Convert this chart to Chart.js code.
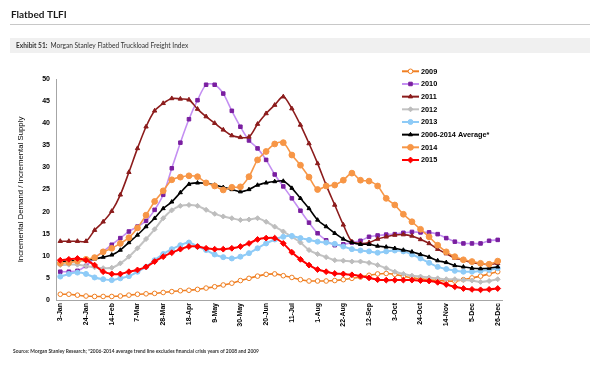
<!DOCTYPE html>
<html>
<head>
<meta charset="utf-8">
<script src="https://cdn.jsdelivr.net/npm/chart.js@4.4.1/dist/chart.umd.min.js"></script>
<style>
  html, body { margin: 0; padding: 0; background: #ffffff; }
  #wrap { position: relative; width: 600px; height: 377px; overflow: hidden; }
  canvas { display: block; }
</style>
</head>
<body>
<div id="wrap"><canvas id="chart" width="600" height="377"></canvas></div>
<script>
// weekly categories, one label shown every 3 weeks
const weeks = ["3-Jan", "10-Jan", "17-Jan", "24-Jan", "31-Jan", "7-Feb", "14-Feb", "21-Feb", "28-Feb",
  "7-Mar", "14-Mar", "21-Mar", "28-Mar", "4-Apr", "11-Apr", "18-Apr", "25-Apr", "2-May", "9-May",
  "16-May", "23-May", "30-May", "6-Jun", "13-Jun", "20-Jun", "27-Jun", "4-Jul", "11-Jul", "18-Jul",
  "25-Jul", "1-Aug", "8-Aug", "15-Aug", "22-Aug", "29-Aug", "5-Sep", "12-Sep", "19-Sep", "26-Sep",
  "3-Oct", "10-Oct", "17-Oct", "24-Oct", "31-Oct", "7-Nov", "14-Nov", "21-Nov", "28-Nov", "5-Dec",
  "12-Dec", "19-Dec", "26-Dec"];

const yTicks = [0, 5, 10, 15, 20, 25, 30, 35, 40, 45, 50];

const y2009 = [1.3, 1.3, 1.1, 0.9, 0.8, 0.8, 0.8, 0.9, 1.1, 1.3,
  1.4, 1.5, 1.7, 1.9, 2.1, 2.2, 2.4, 2.7, 3.0, 3.4,
  3.8, 4.4, 4.9, 5.4, 5.8, 5.9, 5.5, 5.1, 4.6, 4.3,
  4.3, 4.3, 4.4, 4.6, 4.9, 5.2, 5.6, 5.9, 6.0, 5.8,
  5.4, 5.0, 4.8, 4.6, 4.4, 4.3, 4.3, 4.6, 5.0, 5.4,
  5.9, 6.4];

const y2010 = [6.4, 6.4, 6.6, 7.7, 9.5, 11.0, 12.5, 14.0, 15.5, 16.6,
  17.9, 20.4, 23.8, 29.8, 35.6, 40.9, 45.2, 48.7, 48.7, 46.7,
  42.8, 39.2, 36.1, 34.3, 31.7, 28.4, 25.7, 23.0, 20.2, 17.5,
  15.1, 13.5, 12.4, 12.6, 13.0, 13.4, 14.3, 14.6, 14.8, 14.9,
  15.2, 15.4, 15.3, 15.3, 14.9, 14.0, 13.2, 12.8, 12.8, 12.8,
  13.4, 13.6];

const y2011 = [13.3, 13.3, 13.3, 13.3, 15.8, 17.7, 20.1, 23.8, 28.9, 34.3,
  39.2, 42.8, 44.5, 45.6, 45.5, 45.3, 43.2, 41.5, 40.0, 38.5,
  37.2, 36.8, 36.9, 39.8, 42.2, 44.1, 46.0, 43.3, 39.6, 35.4,
  30.9, 26.0, 21.5, 17.0, 13.2, 12.8, 13.0, 13.8, 14.3, 14.7,
  14.8, 14.5, 13.7, 12.8, 11.5, 10.5, 9.5, 9.0, 8.5, 8.2,
  8.0, 8.3];

const y2012 = [7.9, 8.0, 8.0, 7.7, 7.4, 7.2, 7.3, 8.3, 9.8, 11.7,
  13.8, 16.0, 18.5, 20.3, 21.3, 21.5, 21.3, 20.4, 19.5, 18.9,
  18.5, 18.1, 18.2, 18.5, 17.7, 16.6, 15.5, 14.3, 13.0, 11.3,
  10.4, 9.7, 9.0, 8.9, 8.7, 8.7, 8.4, 7.9, 7.2, 6.4,
  5.9, 5.5, 5.3, 5.1, 4.9, 4.7, 4.7, 4.5, 4.4, 4.1,
  4.3, 4.7];

const y2013 = [5.3, 5.9, 6.2, 5.9, 5.1, 4.7, 4.5, 4.9, 5.4, 6.4,
  7.5, 9.0, 10.4, 11.5, 12.4, 13.0, 12.1, 11.3, 10.3, 9.7,
  9.4, 9.8, 10.6, 11.7, 12.8, 13.7, 14.3, 14.5, 14.0, 13.6,
  13.2, 13.0, 12.7, 12.1, 11.5, 11.2, 11.0, 10.7, 11.0, 11.2,
  11.0, 10.3, 9.4, 8.4, 7.5, 7.0, 6.6, 6.4, 6.4, 6.6,
  6.8, 7.2];

const yAverage = [8.7, 8.8, 8.9, 9.0, 9.3, 9.7, 10.2, 11.3, 13.0, 14.7,
  16.6, 18.5, 20.7, 22.2, 24.3, 26.2, 26.5, 26.4, 26.0, 25.5,
  25.0, 24.5, 25.0, 26.0, 26.5, 26.8, 26.9, 25.3, 23.0, 20.7,
  18.1, 16.6, 15.1, 13.8, 13.0, 12.6, 12.6, 12.2, 12.0, 11.7,
  11.3, 10.9, 10.3, 9.7, 8.9, 8.5, 7.8, 7.5, 7.2, 7.1,
  7.2, 7.5];

const y2014 = [8.3, 8.5, 8.8, 9.2, 9.6, 10.9, 11.7, 12.8, 14.1, 16.3,
  19.2, 22.3, 24.7, 27.2, 27.8, 28.1, 27.9, 26.5, 25.8, 24.9,
  25.5, 25.6, 27.9, 31.7, 33.6, 35.3, 35.6, 32.8, 30.5, 27.8,
  25.0, 25.8, 26.0, 27.1, 28.7, 27.1, 26.9, 25.8, 23.0, 21.5,
  19.4, 17.7, 16.0, 14.3, 12.4, 10.9, 9.8, 9.1, 8.7, 8.3,
  8.1, 8.8];

const y2015 = [9.0, 9.2, 9.4, 9.0, 7.9, 6.4, 5.9, 5.9, 6.4, 6.8,
  7.5, 8.7, 9.8, 10.7, 11.5, 12.1, 12.1, 11.7, 11.5, 11.5,
  11.7, 12.1, 12.8, 13.7, 14.0, 14.0, 12.8, 10.8, 9.2, 7.9,
  6.9, 6.4, 6.0, 5.9, 5.7, 5.4, 5.0, 4.6, 4.5, 4.5,
  4.5, 4.5, 4.4, 4.3, 4.0, 3.5, 3.0, 2.6, 2.4, 2.3,
  2.4, 2.6];

// series look: line colour, marker colour/fill, marker shape
function series(label, data, line, marker, fill, style, radius) {
  return {
    label: label,
    data: data,
    borderColor: line,
    borderWidth: 1.6,
    pointBackgroundColor: fill,
    pointBorderColor: marker,
    pointBorderWidth: 1,
    pointStyle: style,
    pointRadius: radius,
    pointHoverRadius: radius,
    tension: 0.3,
    fill: false
  };
}

const datasets = [
  series("2009", y2009, "#f07f22", "#f07f22", "#ffffff", "circle", 2.3),
  series("2010", y2010, "#c48ff2", "#7a1fa0", "#7a1fa0", "rect", 2.5),
  series("2011", y2011, "#8c1c1c", "#8c1c1c", "#8c1c1c", "triangle", 2.5),
  series("2012", y2012, "#c3c3c3", "#bdbdbd", "#bdbdbd", "rectRot", 2.5),
  series("2013", y2013, "#8ecbf7", "#8ecbf7", "#8ecbf7", "circle", 2.5),
  series("2006-2014 Average*", yAverage, "#000000", "#000000", "#000000", "triangle", 2.3),
  series("2014", y2014, "#f79646", "#f79646", "#f79646", "circle", 2.9),
  series("2015", y2015, "#ff0000", "#ff0000", "#ff0000", "rectRot", 2.9)
];
datasets.forEach((d, i) => { d.order = datasets.length - i; });
datasets[3].borderWidth = 2;
datasets[4].borderWidth = 2;
datasets[7].borderWidth = 2;

// page header, band and source note drawn behind the chart
const pageText = {
  id: "pageText",
  beforeDraw(chart) {
    const ctx = chart.ctx;
    ctx.save();
    ctx.fillStyle = "#ffffff";
    ctx.fillRect(0, 0, chart.width, chart.height);

    ctx.fillStyle = "#1a1a1a";
    ctx.font = "bold 10px Lato";
    ctx.textBaseline = "alphabetic";
    ctx.fillText("Flatbed TLFI", 11, 17.5);

    ctx.fillStyle = "#c8c8c8";
    ctx.fillRect(10, 24, 580, 1);

    ctx.fillStyle = "#f0f0f0";
    ctx.fillRect(10, 38, 580, 15);

    ctx.fillStyle = "#333333";
    ctx.font = "bold 6.6px Lato";
    ctx.fillText("Exhibit 51:", 16, 48.3);
    const w = ctx.measureText("Exhibit 51:").width;
    ctx.font = "6.6px Lato";
    ctx.fillText("Morgan Stanley Flatbed Truckload Freight Index", 16 + w + 3, 48.3);

    ctx.font = "bold 4.9px Lato";
    ctx.fillStyle = "#333333";
    ctx.fillText("Source: Morgan Stanley Research; *2006-2014 average trend line excludes financial crisis years of 2008 and 2009", 13, 353);
    ctx.restore();
  },
  // legend in the upper right of the plot
  afterDraw(chart) {
    const ctx = chart.ctx;
    ctx.save();
    chart.data.datasets.forEach((d, i) => {
      const y = 71.3 + i * 12.67;
      ctx.strokeStyle = d.borderColor;
      ctx.lineWidth = 2;
      ctx.beginPath();
      ctx.moveTo(402, y);
      ctx.lineTo(419, y);
      ctx.stroke();
      ctx.fillStyle = d.pointBackgroundColor;
      ctx.strokeStyle = d.pointBorderColor;
      ctx.lineWidth = 1;
      Chart.helpers.drawPoint(ctx, { pointStyle: d.pointStyle, radius: d.pointRadius, borderWidth: 1, rotation: 0 }, 410.5, y);
      ctx.fillStyle = "#000000";
      ctx.font = "bold 7.3px 'Liberation Sans', Arial";
      ctx.textBaseline = "middle";
      ctx.fillText(d.label, 421, y + 0.5);
    });
    ctx.restore();
  }
};

new Chart(document.getElementById("chart").getContext("2d"), {
  type: "line",
  data: { labels: weeks, datasets: datasets },
  options: {
    responsive: false,
    animation: false,
    events: [],
    layout: { padding: { left: 12, right: 98, top: 79, bottom: 47 } },
    plugins: { legend: { display: false }, tooltip: { enabled: false } },
    scales: {
      x: {
        offset: true,
        grid: { display: false, drawTicks: false },
        border: { display: true, color: "#a6a6a6", width: 1 },
        afterFit: (s) => { s.height = 30; },
        ticks: {
          autoSkip: false,
          maxRotation: 90,
          minRotation: 90,
          padding: 3,
          color: "#000000",
          font: { family: "'Liberation Sans', Arial", size: 7, weight: "bold" },
          callback: (v, i) => (i % 3 === 0 ? weeks[i] : "")
        }
      },
      y: {
        min: yTicks[0],
        max: yTicks[yTicks.length - 1],
        grid: { display: false, drawTicks: false },
        border: { display: true, color: "#a6a6a6", width: 1 },
        afterFit: (s) => { s.width = 44; },
        afterBuildTicks: (s) => { s.ticks = yTicks.map((v) => ({ value: v })); },
        ticks: {
          padding: 6,
          color: "#000000",
          font: { family: "'Liberation Sans', Arial", size: 7, weight: "bold" }
        },
        title: {
          display: true,
          text: "Incremental Demand / Incremental Supply",
          color: "#000000",
          font: { family: "'Liberation Sans', Arial", size: 7.8 }
        }
      }
    }
  },
  plugins: [pageText]
});
</script>
</body>
</html>
